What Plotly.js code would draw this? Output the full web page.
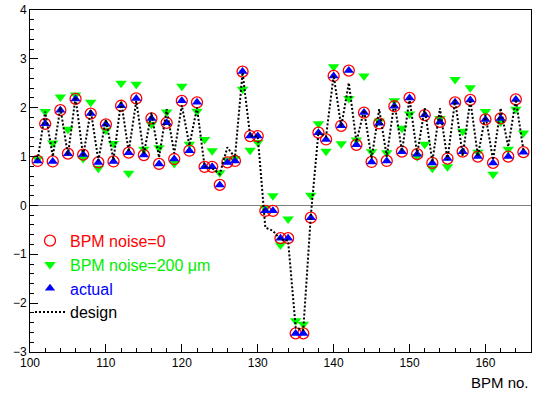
<!DOCTYPE html>
<html>
<head>
<meta charset="utf-8">
<script src="https://cdn.plot.ly/plotly-3.0.1.min.js"></script>
<style>html,body{margin:0;padding:0;background:#fff;}#chart{width:538px;height:396px;}</style>
</head>
<body>
<div id="chart"></div>
<script>
// BPM numbers
const bpm = [101,102,103,104,105,106,107,108,109,110,
             111,112,113,114,115,116,117,118,119,120,
             121,122,123,124,125,126,127,128,129,130,
             131,132,133,134,135,136,137,138,139,140,
             141,142,143,144,145,146,147,148,149,150,
             151,152,153,154,155,156,157,158,159,160,
             161,162,163,164,165];

// BPM noise = 0
const noise0 = [0.91,1.67,0.90,1.95,1.06,2.18,1.04,1.88,0.88,1.66,
                0.90,2.04,1.08,2.19,1.03,1.78,0.85,1.69,0.95,2.14,
                1.12,2.11,0.79,0.79,0.42,0.88,0.91,2.74,1.42,1.42,
                -0.11,-0.11,-0.67,-0.67,-2.62,-2.62,-0.25,1.49,1.35,2.65,
                1.63,2.76,1.24,1.90,0.89,1.68,0.91,2.03,1.10,2.20,
                1.05,1.85,0.87,1.71,0.96,2.11,1.10,2.16,1.00,1.76,
                0.87,1.78,1.00,2.17,1.09];

// BPM noise = 200 um
const noise200 = [0.95,1.92,1.28,2.22,1.56,2.26,0.96,2.11,0.76,1.54,
                  1.27,2.50,0.66,2.48,1.15,1.66,1.18,1.91,0.86,2.44,
                  1.25,1.93,1.35,1.12,0.67,0.93,0.96,2.38,1.13,1.29,
                  -0.06,0.20,-0.81,-0.28,-2.36,-2.43,0.21,1.67,1.11,2.84,
                  1.26,2.19,1.34,2.65,1.10,1.73,1.08,2.14,1.58,1.87,
                  1.00,1.25,0.76,1.78,0.79,2.58,1.52,2.41,1.09,1.92,
                  0.64,1.71,1.15,1.97,1.48];

// actual orbit
const actual = [0.91,1.67,0.90,1.95,1.06,2.18,1.04,1.88,0.88,1.66,
                0.90,2.04,1.08,2.19,1.03,1.78,0.85,1.69,0.95,2.14,
                1.12,2.11,0.79,0.79,0.42,0.88,0.91,2.74,1.42,1.42,
                -0.11,-0.11,-0.67,-0.67,-2.62,-2.62,-0.25,1.49,1.35,2.65,
                1.63,2.76,1.24,1.90,0.89,1.68,0.91,2.03,1.10,2.20,
                1.05,1.85,0.87,1.71,0.96,2.11,1.10,2.16,1.00,1.76,
                0.87,1.78,1.00,2.17,1.09];

// design orbit
const design = [0.93,1.92,1.00,2.00,1.03,2.22,1.00,1.95,0.92,1.76,
                0.93,2.14,1.10,2.14,1.05,1.90,0.98,1.97,1.07,2.05,
                1.23,2.00,0.80,0.76,0.64,1.19,0.98,2.72,1.42,1.42,
                -0.45,-0.52,-0.70,-0.72,-2.50,-2.55,-0.20,1.50,1.41,2.66,
                1.61,2.51,1.30,1.95,0.96,1.97,1.00,2.12,1.10,2.19,
                1.05,1.99,0.89,1.99,0.93,2.16,1.01,2.16,1.01,1.85,
                0.93,1.99,1.20,2.17,1.13];

const FONT = 'Liberation Sans, Arial, Helvetica, sans-serif';

const traces = [
  {x: bpm, y: noise200, type: 'scatter', mode: 'markers', legendrank: 2,
   name: '<span style="color:#00ee00">BPM noise=200 μm</span>',
   marker: {symbol: 'triangle-down', size: 10, color: '#00ff00', line: {width: 0}}},
  {x: bpm, y: noise0, type: 'scatter', mode: 'markers', legendrank: 1,
   name: '<span style="color:#ff0000">BPM noise=0</span>',
   marker: {symbol: 'circle-open', size: 11, color: '#ff0000', line: {width: 1.3, color: '#ff0000'}}},
  {x: bpm, y: actual, type: 'scatter', mode: 'markers', legendrank: 3,
   name: '<span style="color:#0000ff">actual</span>',
   marker: {symbol: 'triangle-up', size: 9, color: '#0000ff', line: {width: 0}}},
  {x: bpm, y: design, type: 'scatter', mode: 'lines', legendrank: 4,
   name: 'design',
   line: {color: '#000000', width: 2, dash: '2px,2px'}}
];

const layout = {
  width: 538, height: 396,
  margin: {l: 30, r: 7, t: 10, b: 44},
  paper_bgcolor: '#ffffff', plot_bgcolor: '#ffffff',
  font: {family: FONT, size: 12, color: '#000'},
  showlegend: true,
  legend: {x: 0.0, xanchor: 'left', y: 0.375, yanchor: 'top',
           bgcolor: 'rgba(0,0,0,0)', borderwidth: 0,
           font: {family: FONT, size: 16, color: '#000'}},
  xaxis: {range: [100, 166], tick0: 100, dtick: 10, ticks: 'inside', ticklen: 8,
          tickwidth: 1, tickcolor: '#000', showline: true, mirror: true,
          linecolor: '#000', linewidth: 1, showgrid: false, zeroline: false,
          tickfont: {family: FONT, size: 12, color: '#000'},
          minor: {dtick: 2, ticks: 'inside', ticklen: 4, tickcolor: '#000', tickwidth: 1, showgrid: false}},
  yaxis: {range: [-3, 4], tick0: 0, dtick: 1, ticks: 'inside', ticklen: 8,
          tickwidth: 1, tickcolor: '#000', showline: true, mirror: true,
          linecolor: '#000', linewidth: 1, showgrid: false,
          zeroline: true, zerolinecolor: '#808080', zerolinewidth: 1.5,
          tickfont: {family: FONT, size: 12, color: '#000'},
          minor: {dtick: 0.2, ticks: 'inside', ticklen: 4, tickcolor: '#000', tickwidth: 1, showgrid: false}},
  annotations: [
    {text: 'BPM no.', xref: 'paper', yref: 'paper', x: 1, y: -0.09,
     xanchor: 'right', yanchor: 'middle', showarrow: false,
     font: {family: FONT, size: 15, color: '#000'}}
  ]
};

Plotly.newPlot('chart', traces, layout, {displayModeBar: false, staticPlot: true});
</script>
</body>
</html>
